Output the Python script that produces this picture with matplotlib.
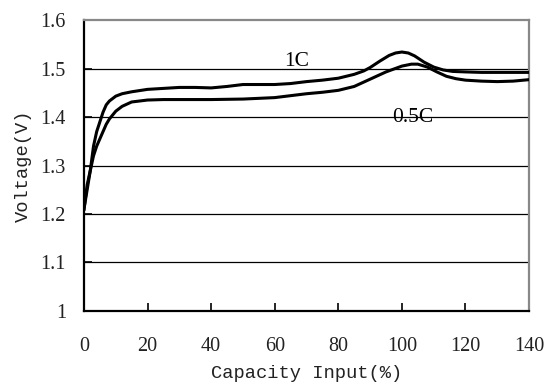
import matplotlib
matplotlib.use("Agg")
import matplotlib.pyplot as plt

# ===============================
# DATA
# ===============================
cap_1c = [0, 1, 2, 3, 4, 5, 6, 7, 8, 10, 12, 15, 20, 25, 30, 35, 40, 45, 50, 55,
          60, 65, 70, 75, 80, 85, 88, 90, 93, 96, 98, 100, 102, 104, 107, 110,
          113, 116, 120, 125, 130, 135, 140]
volt_1c = [1.21, 1.25, 1.29, 1.34, 1.37, 1.39, 1.41, 1.425, 1.433, 1.443, 1.448,
           1.452, 1.457, 1.459, 1.461, 1.461, 1.460, 1.463, 1.467, 1.467, 1.467,
           1.469, 1.473, 1.476, 1.480, 1.488, 1.495, 1.502, 1.515, 1.527, 1.532,
           1.534, 1.532, 1.526, 1.513, 1.503, 1.497, 1.494, 1.493, 1.492, 1.492,
           1.492, 1.492]

cap_05c = [0, 1, 2, 3, 4, 5, 6, 7, 8, 10, 12, 15, 20, 25, 30, 40, 50, 60, 65, 70,
           75, 80, 85, 90, 95, 100, 103, 105, 108, 111, 114, 117, 120, 125, 130,
           135, 140]
volt_05c = [1.21, 1.26, 1.29, 1.32, 1.34, 1.355, 1.37, 1.385, 1.396, 1.412, 1.422,
            1.431, 1.435, 1.436, 1.436, 1.436, 1.437, 1.440, 1.444, 1.448, 1.451,
            1.455, 1.463, 1.478, 1.493, 1.505, 1.509, 1.509, 1.503, 1.493, 1.484,
            1.479, 1.476, 1.474, 1.473, 1.474, 1.477]

x_ticks = [0, 20, 40, 60, 80, 100, 120, 140]
y_ticks = [1.0, 1.1, 1.2, 1.3, 1.4, 1.5, 1.6]
y_tick_labels = ["1", "1.1", "1.2", "1.3", "1.4", "1.5", "1.6"]

# ===============================
# PLOT
# ===============================
fig = plt.figure(figsize=(5.46, 3.82), dpi=100)
ax = fig.add_axes([0.1538, 0.1859, 0.8152, 0.7617])

for y in y_ticks[1:-1]:
    ax.axhline(y, color="black", lw=0.9, zorder=1)

ax.plot(cap_1c, volt_1c, color="black", lw=2.2, zorder=3)
ax.plot(cap_05c, volt_05c, color="black", lw=2.2, zorder=3)

ax.set_xlim(0, 140)
ax.set_ylim(1.0, 1.6)
ax.set_xticks(x_ticks)
ax.set_yticks(y_ticks)
ax.set_yticklabels(y_tick_labels)

serif = "Liberation Serif"
mono = "Liberation Mono"
for lab in ax.get_xticklabels() + ax.get_yticklabels():
    lab.set_family(serif)
    lab.set_fontsize(14.5)
    lab.set_color("#222222")

ax.tick_params(axis="both", direction="in", length=6, width=1.2, color="black")
ax.tick_params(axis="x", pad=19)
ax.tick_params(axis="y", pad=13)

for side in ["top", "right"]:
    ax.spines[side].set_color("#888888")
    ax.spines[side].set_linewidth(1.6)
for side in ["left", "bottom"]:
    ax.spines[side].set_color("black")
    ax.spines[side].set_linewidth(1.6)

ax.set_xlabel("Capacity Input(%)", family=mono, fontsize=13.5, color="#222222", labelpad=6)
ax.set_ylabel("Voltage(V)", family=mono, fontsize=13.5, color="#222222", labelpad=6)

ax.text(67, 1.515, "1C", family=serif, fontsize=15.5, ha="center", va="center")
ax.text(103.3, 1.4, "0.5C", family=serif, fontsize=15.5, ha="center", va="center")

fig.savefig("out.png", dpi=100)
